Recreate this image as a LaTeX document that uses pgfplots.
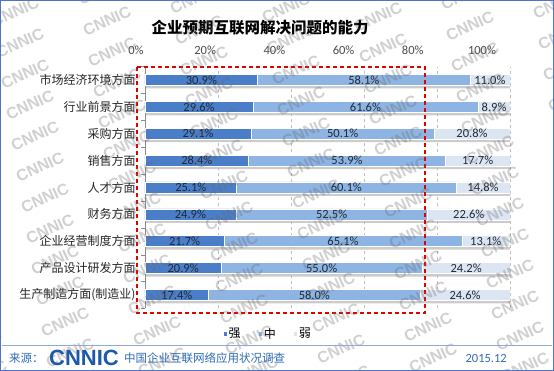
\documentclass[border=0pt]{standalone}
\usepackage{pgfplots}
\usepackage{pgfplotstable}
\pgfplotsset{compat=1.18}
\usepackage{fontspec}
\setmainfont{Carlito}
\newfontfamily\cjk{Noto Sans CJK SC}
\newfontfamily\logofont{Liberation Sans}
\definecolor{cStrong}{HTML}{4A7EC9}
\definecolor{cMid}{HTML}{8DB4E2}
\definecolor{cWeak}{HTML}{DCE6F2}
\definecolor{frameblue}{HTML}{4F73C9}
\definecolor{lineblue}{HTML}{8EA9DB}
\definecolor{footblue}{HTML}{2E6DB4}
\definecolor{logoblue}{HTML}{1E5AA8}
\definecolor{txt}{HTML}{1F2A36}

% rows: y=8 is the top category
\pgfplotstableread{
y s m w
8 30.9 58.1 11.0
7 29.6 61.6 8.9
6 29.1 50.1 20.8
5 28.4 53.9 17.7
4 25.1 60.1 14.8
3 24.9 52.5 22.6
2 21.7 65.1 13.1
1 20.9 55.0 24.2
0 17.4 58.0 24.6
}\datatable

% label positions (segment midpoints) and texts
\pgfplotstableread{
x y lab
15.45 8 30.9
14.80 7 29.6
14.55 6 29.1
14.20 5 28.4
12.55 4 25.1
12.45 3 24.9
10.85 2 21.7
10.45 1 20.9
8.70 0 17.4
59.95 8 58.1
60.40 7 61.6
54.15 6 50.1
55.35 5 53.9
55.15 4 60.1
51.15 3 52.5
54.25 2 65.1
48.40 1 55.0
46.40 0 58.0
94.50 8 11.0
95.65 7 8.9
89.60 6 20.8
91.15 5 17.7
92.60 4 14.8
88.70 3 22.6
93.35 2 13.1
88.00 1 24.2
87.70 0 24.6
}\labtable

\pgfplotstableread{
x y
100 8
100 7
100 6
100 5
100 4
100 3
100 2
100 1
100 0
}\shadowtable

\begin{document}
\begin{tikzpicture}[x=1pt,y=1pt]
\useasboundingbox (0,0) rectangle (554,371);
\fill[white] (0,0) rectangle (554,371);

\node[font=\cjk\bfseries\fontsize{15.5}{18}\selectfont] at (260,371-28) {企业预期互联网解决问题的能力};

\pgfplotsset{myaxis/.style={scale only axis, width=365pt, height=241.9pt,
  at={(145pt,62.6pt)}, anchor=south west, xmin=0, xmax=100, ymin=-0.5, ymax=8.5}}

% shadows
\begin{axis}[myaxis, hide axis]
\addplot[xbar, bar width=3pt, bar shift=-7pt, fill=black!20, draw=none] table[x=x,y=y] {\shadowtable};
\end{axis}

\begin{axis}[myaxis,
  xbar stacked, bar width=11pt,
  axis y line*=left, axis x line*=top,
  x axis line style={draw=none},
  y axis line style={black!45},
  xtick={0,20,40,60,80,100},
  xticklabels={0\%,20\%,40\%,60\%,80\%,100\%},
  xticklabel style={font=\fontsize{12.5}{14}\selectfont, text=black!70, xshift={-(9+3.8*\ticknum)*1pt}, yshift=4pt},
  major x tick style={draw=none},
  xmajorgrids, major x grid style={black!25, dashed},
  ytick={0,...,8},
  yticklabels={生产制造方面(制造业),产品设计研发方面,企业经营制度方面,财务方面,人才方面,销售方面,采购方面,行业前景方面,市场经济环境方面},
  yticklabel style={font=\cjk\fontsize{12}{14}\selectfont, text=black!85, anchor=east, inner xsep=0pt, xshift=-5pt},
  major y tick style={draw=none},
  minor ytick={-0.5,0.5,...,8.5},
  minor y tick style={black!45},
  minor tick length=4pt,
  tick align=outside,
  legend style={at={(axis description cs:0.335,-0.105)}, anchor=center, draw=none, fill=none,
    legend columns=3, font=\cjk\fontsize{12}{14}\selectfont,
    nodes={inner xsep=1pt, inner ysep=1pt},
    /tikz/every even column/.append style={column sep=16pt}},
  legend image code/.code={\fill[#1] (0pt,-2.5pt) rectangle (4.5pt,2pt);},
]
\addplot[fill=cStrong, draw=white, line width=0.6pt] table[x=s,y=y] {\datatable};
\addplot[fill=cMid, draw=white, line width=0.6pt] table[x=m,y=y] {\datatable};
\addplot[fill=cWeak, draw=white, line width=0.6pt] table[x=w,y=y] {\datatable};
\legend{强,中,弱}
\end{axis}

% labels
\begin{axis}[myaxis, hide axis]
\addplot[only marks, mark=none, point meta=explicit symbolic,
  nodes near coords={\pgfplotspointmeta\%},
  nodes near coords style={anchor=center, font=\fontsize{12.5}{14}\selectfont, text=txt, inner sep=0pt}]
  table[x=x,y=y,meta=lab] {\labtable};
\end{axis}

% red dashed highlight box
\draw[red!90!black, line width=1.2pt, dash pattern=on 4pt off 3pt] (137,371-67) rectangle (425,371-313);

% watermarks
\begin{scope}[opacity=0.3]
\foreach \r in {-2,...,12}{
  \foreach \c in {-1,...,6}{
    \pgfmathsetmacro{\xx}{15+92*\c+5*\r}
    \pgfmathsetmacro{\yy}{371-12-31*\r-9*\c}
    \node[rotate=25, text=black!60, font=\logofont\bfseries\fontsize{16}{18}\selectfont] at (\xx,\yy) {CNNIC};
  }
}
\end{scope}

% footer
\draw[lineblue, line width=0.9pt] (2,371-345) -- (552,371-345);
\node[anchor=west, text=footblue, font=\cjk\fontsize{11.5}{13}\selectfont, inner sep=0pt] at (9,371-358) {来源：};
\node[anchor=west, text=logoblue, font=\logofont\bfseries\fontsize{22}{24}\selectfont, inner sep=0pt] at (49,371-358) {CNNIC};
\node[anchor=west, text=footblue, font=\cjk\fontsize{11.5}{13}\selectfont, inner sep=0pt] at (124,371-358) {中国企业互联网络应用状况调查};
\node[anchor=east, text=footblue, font=\fontsize{12.5}{14}\selectfont, inner sep=0pt] at (507,371-358) {2015.12};

\draw[frameblue, line width=1pt] (0.5,0.5) rectangle (553.5,370.5);
\end{tikzpicture}
\end{document}
